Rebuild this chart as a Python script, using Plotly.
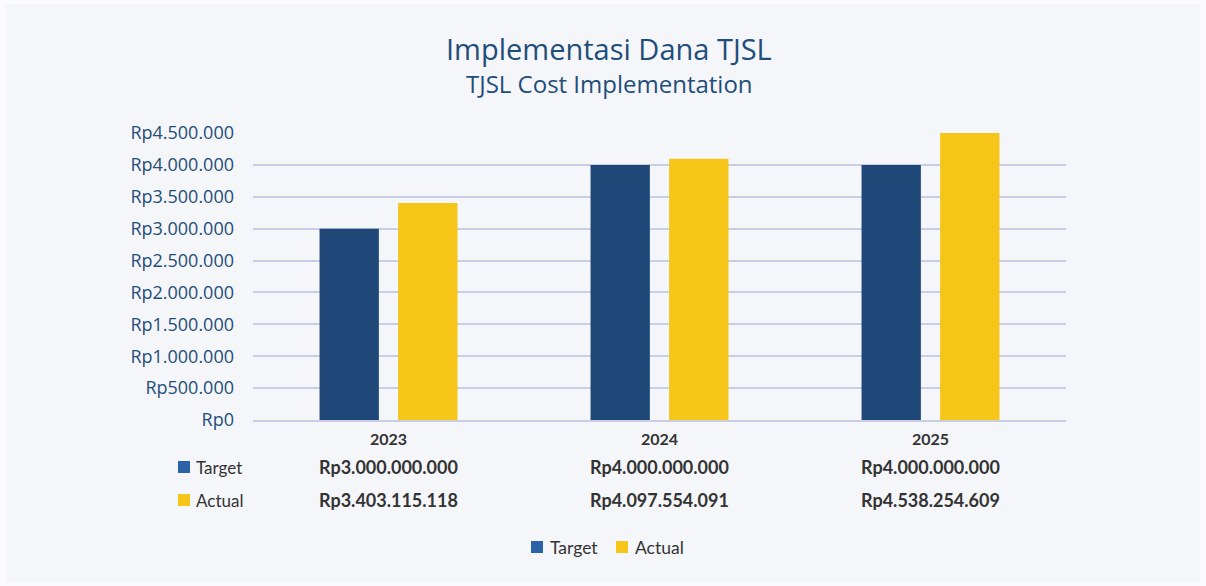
import plotly.graph_objects as go

years = ["2023", "2024", "2025"]
target = [3000000000, 4000000000, 4000000000]
actual = [3403115118, 4097554091, 4538254609]
target_labels = ["Rp3.000.000.000", "Rp4.000.000.000", "Rp4.000.000.000"]
actual_labels = ["Rp3.403.115.118", "Rp4.097.554.091", "Rp4.538.254.609"]
tick_vals = [0, 500000, 1000000, 1500000, 2000000, 2500000, 3000000, 3500000, 4000000, 4500000]
tick_text = ["Rp0", "Rp500.000", "Rp1.000.000", "Rp1.500.000", "Rp2.000.000", "Rp2.500.000",
             "Rp3.000.000", "Rp3.500.000", "Rp4.000.000", "Rp4.500.000"]

W, H = 1206, 586
L, R, T, B = 253, 140, 133, 166
PW, PH = W - L - R, H - T - B

def px(x):
    return (x - L) / PW

def py(y):
    return (H - B - y) / PH

BAR_BLUE = "#1f4878"
LEG_BLUE = "#2c63a8"
YELLOW = "#f5c518"
TITLE_C = "#1f4e79"
TXT = "#333333"
FONT_T = "Open Sans"
FONT_B = "Lato"

fig = go.Figure()
fig.add_trace(go.Bar(x=years, y=[v / 1000 for v in target], name="Target",
                     marker=dict(color=BAR_BLUE, line=dict(width=0)), showlegend=False))
fig.add_trace(go.Bar(x=years, y=[v / 1000 for v in actual], name="Actual",
                     marker=dict(color=YELLOW, line=dict(width=0)), showlegend=False))

shapes = []
# card background
shapes.append(dict(type="rect", xref="paper", yref="paper", layer="below",
                   x0=px(6), x1=px(1200), y0=py(582), y1=py(4),
                   fillcolor="#f5f6fa", line=dict(width=0)))

annotations = []
# table values (category index positions)
for i, yr in enumerate(years):
    annotations.append(dict(x=i, xref="x", y=py(467), yref="paper", text=target_labels[i],
                            showarrow=False, yanchor="middle",
                            font=dict(family=FONT_B, size=18, color=TXT, weight="bold")))
    annotations.append(dict(x=i, xref="x", y=py(500), yref="paper", text=actual_labels[i],
                            showarrow=False, yanchor="middle",
                            font=dict(family=FONT_B, size=18, color=TXT, weight="bold")))

# table row labels with swatches
for name, color, yc in [("Target", LEG_BLUE, 467), ("Actual", YELLOW, 500)]:
    shapes.append(dict(type="rect", xref="paper", yref="paper",
                       x0=px(178), x1=px(190), y0=py(yc + 6), y1=py(yc - 6),
                       fillcolor=color, line=dict(width=0)))
    annotations.append(dict(x=px(194), xref="paper", y=py(yc), yref="paper", text=name,
                            showarrow=False, xanchor="left", yanchor="middle",
                            font=dict(family=FONT_B, size=17, color=TXT)))

# bottom legend
for name, color, x0 in [("Target", LEG_BLUE, 531), ("Actual", YELLOW, 616)]:
    shapes.append(dict(type="rect", xref="paper", yref="paper",
                       x0=px(x0), x1=px(x0 + 12), y0=py(553), y1=py(541),
                       fillcolor=color, line=dict(width=0)))
    annotations.append(dict(x=px(x0 + 17), xref="paper", y=py(547), yref="paper", text=name,
                            showarrow=False, xanchor="left", yanchor="middle",
                            font=dict(family=FONT_B, size=17.5, color=TXT)))

# titles
annotations.append(dict(x=px(609), xref="paper", y=py(48), yref="paper",
                        text="Implementasi Dana TJSL", showarrow=False,
                        xanchor="center", yanchor="middle",
                        font=dict(family=FONT_T, size=29, color=TITLE_C)))
annotations.append(dict(x=px(609), xref="paper", y=py(83), yref="paper",
                        text="TJSL Cost Implementation", showarrow=False,
                        xanchor="center", yanchor="middle",
                        font=dict(family=FONT_T, size=24, color=TITLE_C)))

fig.update_layout(
    width=W, height=H,
    margin=dict(l=L, r=R, t=T, b=B),
    paper_bgcolor="#fbfbfd", plot_bgcolor="rgba(0,0,0,0)",
    barmode="group", bargap=0.42, bargroupgap=0.245,
    shapes=shapes, annotations=annotations,
    showlegend=False,
)
fig.update_xaxes(type="category", showgrid=False, showline=True, linecolor="#c9cde6", linewidth=2,
                 ticks="", tickfont=dict(family=FONT_B, size=16, color=TXT, weight="bold"),
                 ticklabelstandoff=4)
fig.update_yaxes(range=[0, 4500000], tickvals=tick_vals, ticktext=tick_text,
                 showgrid=True, gridcolor="#c9cde6", gridwidth=2, zeroline=False,
                 showline=False, ticks="", ticklabelstandoff=18,
                 tickfont=dict(family=FONT_T, size=18, color=TITLE_C))

fig.write_html("out.html", config={"displayModeBar": False},
               post_script="document.body.style.margin='0';")
